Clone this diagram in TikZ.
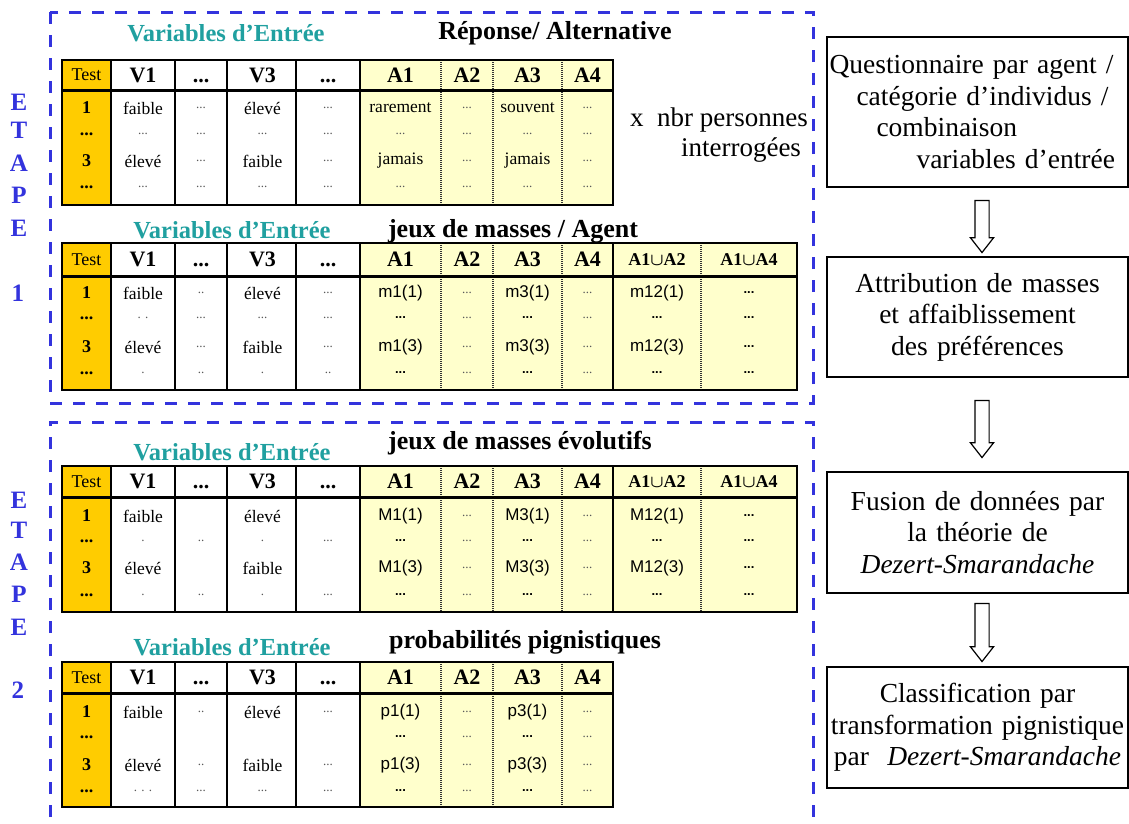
\documentclass[tikz,border=0pt]{standalone}
\usepackage{fontspec}
\setmainfont{Liberation Serif}
\newfontfamily\sansf{Liberation Sans}
\usetikzlibrary{shapes.arrows,calc}
\definecolor{orangeT}{RGB}{255,204,0}
\definecolor{yellowT}{RGB}{255,255,204}
\definecolor{tealT}{RGB}{32,160,160}
\definecolor{blueD}{RGB}{51,51,221}
\newcommand\fs[1]{\fontsize{#1}{#1}\selectfont}
\newcommand\cB[1]{{\fs{22}\bfseries #1}}
\newcommand\cH{{\fs{22}\bfseries\vphantom{V1}...}}
\newcommand\cT[1]{{\fs{18}#1}}
\newcommand\cN[1]{{\fs{18}\bfseries #1}}
\newcommand\cR[1]{{\fs{17.5}#1}}
\newcommand\cS[1]{{\sansf\fs{17}#1}}
\newcommand\cL[1]{{\color{black!65}\fs{13}#1}}
\newcommand\cD{{\sansf\bfseries\fs{13}...}}
\newcommand\cU[2]{{\fs{18}\bfseries\boldmath #1$\cup$#2}}
\newcommand\cE{}
\newcommand\tgrid[5]{%
  \fill[orangeT] (62,#1) rectangle (111,#3);
  \fill[white] (111,#1) rectangle (360,#3);
  \fill[yellowT] (360,#1) rectangle (#4,#3);
  \foreach \xx in {111,175,227,296,360} \draw[tline] (\xx,#1) -- (\xx,#3);
  \foreach \xx in {441,493,562} \draw[dline] (\xx,#1) -- (\xx,#3);
  \ifnum#5=1
    \draw[tline] (613,#1) -- (613,#3);
    \draw[dline] (701,#1) -- (701,#3);
  \fi
  \draw[hline] (62,#2) -- (#4,#2);
  \draw[tline] (62,#1) rectangle (#4,#3);
}
\newcommand\trow[3]{%
  \foreach \t [count=\i] in {#3} {
    \pgfmathsetmacro\xx{{86.5,143,201,262.5,328,400.5,467,527.5,587.5,657,749}[\i-1]}
    \node[cell] (#1-\i) at (\xx,#2) {\t};
  }
}
\tikzset{
  tline/.style={line width=2pt,black},
  hline/.style={line width=3pt,black},
  dline/.style={line width=1.2pt,black!80,dash pattern=on 1pt off 1pt},
  cell/.style={inner sep=0pt,anchor=center},
  dashbox/.style={blueD,line width=3pt,dash pattern=on 12pt off 11pt},
  etape/.style={text=blueD,font=\fs{25}\bfseries,inner sep=0pt},
  vtitle/.style={text=tealT,font=\fs{24.5}\bfseries,inner sep=0pt},
  btitle/.style={font=\fs{26}\bfseries,inner sep=0pt},
  stepbox/.style={draw,line width=1.5pt,minimum width=301pt,text width=296pt,inner xsep=2.5pt,
    font={\fontsize{27.5}{31.5}\selectfont}},
  hollowarrow/.style={single arrow,draw,line width=1.2pt,fill=white,rotate=-90,
    inner xsep=0pt,inner ysep=6.5pt,single arrow head extend=4.5pt,single arrow tip angle=76},
}
\begin{document}
\begin{tikzpicture}[x=1pt,y=-1pt]
\useasboundingbox (0,0) rectangle (1129,823);
\clip (0,0) rectangle (1129,823);
\fill[white] (0,0) rectangle (1129,823);

% dashed stage frames
\draw[dashbox] (50,12) rectangle (813,403);
\draw[dashbox] (50,840) -- (50,422) -- (813,422) -- (813,840);

% ETAPE labels
\node[etape] (e1a) at (19,102) {E};
\node[etape] (e1b) at (19,130) {T};
\node[etape] (e1c) at (19,163) {A};
\node[etape] (e1d) at (19,195) {P};
\node[etape] (e1e) at (19,228) {E};
\node[etape] (e1f) at (18,293) {1};
\node[etape] (e2a) at (19,500) {E};
\node[etape] (e2b) at (19,530) {T};
\node[etape] (e2c) at (19,562) {A};
\node[etape] (e2d) at (19,594) {P};
\node[etape] (e2e) at (19,627) {E};
\node[etape] (e2f) at (18,690) {2};

% ---------- Table 1
\node[vtitle] (v1) at (226,33) {Variables d’Entrée};
\node[btitle] (ti1) at (555,33) {Réponse/ Alternative};
\tgrid{60}{90}{205}{613}{0}
\trow{T1h}{75}{\cT{Test},\cB{V1},\cH,\cB{V3},\cH,\cB{A1},\cB{A2},\cB{A3},\cB{A4}}
\trow{T1a}{108}{\cN{1},\cR{faible},\cL{...},\cR{élevé},\cL{...},\cR{rarement},\cL{...},\cR{souvent},\cL{...}}
\trow{T1b}{134}{\cN{...},\cL{...},\cL{...},\cL{...},\cL{...},\cL{...},\cL{...},\cL{...},\cL{...}}
\trow{T1c}{161}{\cN{3},\cR{élevé},\cL{...},\cR{faible},\cL{...},\cR{jamais},\cL{...},\cR{jamais},\cL{...}}
\trow{T1d}{187}{\cN{...},\cL{...},\cL{...},\cL{...},\cL{...},\cL{...},\cL{...},\cL{...},\cL{...}}
\node[inner sep=0pt,anchor=west,font=\fs{27}] (nbr) at (630,120) {x\ \ nbr personnes};
\node[inner sep=0pt,font=\fs{27}] (interr) at (741,150) {interrogées};

% ---------- Table 2
\node[vtitle] (v2) at (232,230) {Variables d’Entrée};
\node[btitle] (ti2) at (513,231) {jeux de masses / Agent};
\tgrid{243}{276}{390}{797}{1}
\trow{T2h}{259.5}{\cT{Test},\cB{V1},\cH,\cB{V3},\cH,\cB{A1},\cB{A2},\cB{A3},\cB{A4},\cU{A1}{A2},\cU{A1}{A4}}
\trow{T2a}{293}{\cN{1},\cR{faible},\cL{..},\cR{élevé},\cL{...},\cS{m1(1)},\cL{...},\cS{m3(1)},\cL{...},\cS{m12(1)},\cD}
\trow{T2b}{318}{\cN{...},\cL{. .},\cL{...},\cL{...},\cL{...},\cD,\cL{...},\cD,\cL{...},\cD,\cD}
\trow{T2c}{347}{\cN{3},\cR{élevé},\cL{...},\cR{faible},\cL{...},\cS{m1(3)},\cL{...},\cS{m3(3)},\cL{...},\cS{m12(3)},\cD}
\trow{T2d}{373}{\cN{...},\cL{.},\cL{..},\cL{.},\cL{..},\cD,\cL{...},\cD,\cL{...},\cD,\cD}

% ---------- Table 3
\node[vtitle] (v3) at (232,452) {Variables d’Entrée};
\node[btitle] (ti3) at (520,443) {jeux de masses évolutifs};
\tgrid{466}{497}{612}{797}{1}
\trow{T3h}{481.5}{\cT{Test},\cB{V1},\cH,\cB{V3},\cH,\cB{A1},\cB{A2},\cB{A3},\cB{A4},\cU{A1}{A2},\cU{A1}{A4}}
\trow{T3a}{516}{\cN{1},\cR{faible},\cE,\cR{élevé},\cE,\cS{M1(1)},\cL{...},\cS{M3(1)},\cL{...},\cS{M12(1)},\cD}
\trow{T3b}{541}{\cN{...},\cL{.},\cL{..},\cL{.},\cL{...},\cD,\cL{...},\cD,\cL{...},\cD,\cD}
\trow{T3c}{568}{\cN{3},\cR{élevé},\cE,\cR{faible},\cE,\cS{M1(3)},\cL{...},\cS{M3(3)},\cL{...},\cS{M12(3)},\cD}
\trow{T3d}{595}{\cN{...},\cL{.},\cL{..},\cL{.},\cL{...},\cD,\cL{...},\cD,\cL{...},\cD,\cD}

% ---------- Table 4
\node[vtitle] (v4) at (232,647) {Variables d’Entrée};
\node[btitle] (ti4) at (525,642) {probabilités pignistiques};
\tgrid{662}{693}{807}{613}{0}
\trow{T4h}{677.5}{\cT{Test},\cB{V1},\cH,\cB{V3},\cH,\cB{A1},\cB{A2},\cB{A3},\cB{A4}}
\trow{T4a}{712}{\cN{1},\cR{faible},\cL{..},\cR{élevé},\cL{...},\cS{p1(1)},\cL{...},\cS{p3(1)},\cL{...}}
\trow{T4b}{737}{\cN{...},\cE,\cE,\cE,\cE,\cD,\cL{...},\cD,\cL{...}}
\trow{T4c}{765}{\cN{3},\cR{élevé},\cL{..},\cR{faible},\cL{...},\cS{p1(3)},\cL{...},\cS{p3(3)},\cL{...}}
\trow{T4d}{791}{\cN{...},\cL{. . .},\cL{...},\cL{...},\cL{...},\cD,\cL{...},\cD,\cL{...}}

% ---------- process boxes
\node[stepbox,minimum height=150pt,align=left] (b1) at (977.5,112) {Questionnaire par agent /\\
\hspace*{27pt}catégorie d’individus /\\
\hspace*{47pt}combinaison\\
\hspace*{87pt}variables d’entrée};
\node[stepbox,minimum height=120pt,align=center] (b2) at (977.5,317) {Attribution de masses\\et affaiblissement\\des préférences};
\node[stepbox,minimum height=121pt,align=center] (b3) at (977.5,532.5) {Fusion de données par\\la théorie de\\\textit{Dezert-Smarandache}};
\node[stepbox,minimum height=121pt,align=center] (b4) at (977.5,727.5) {Classification par\\transformation pignistique\\par~ \textit{Dezert-Smarandache}};

\node[hollowarrow,minimum height=52pt] (a1) at ($(b1.south)!0.5!(b2.north)+(4.5,0)$) {};
\node[hollowarrow,minimum height=57pt] (a2) at ($(b2.south)!0.5!(b3.north)+(4.5,0)$) {};
\node[hollowarrow,minimum height=58pt] (a3) at ($(b3.south)!0.5!(b4.north)+(4.5,-2)$) {};
\end{tikzpicture}
\end{document}
